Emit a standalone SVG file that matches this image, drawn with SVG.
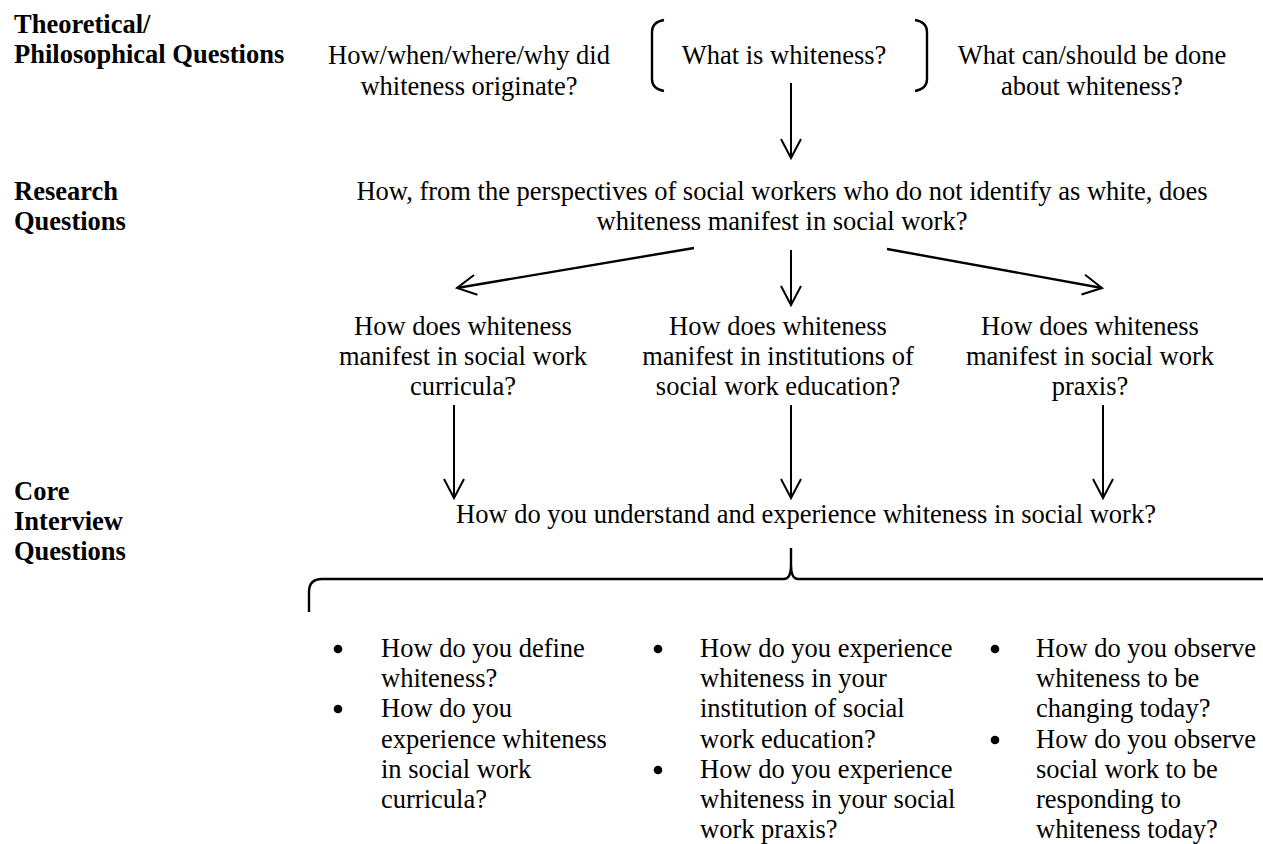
<svg xmlns="http://www.w3.org/2000/svg" width="1263" height="844" viewBox="0 0 1263 844">
<style>
text{font-family:"Liberation Serif","Times New Roman",serif;font-size:26.5px;fill:#000}
.b{font-weight:bold}
.c{text-anchor:middle}
.ln{stroke:#000;stroke-width:2;fill:none}
.br{stroke:#000;stroke-width:2.4;fill:none}
</style>
<defs>
<marker id="ah" markerUnits="userSpaceOnUse" viewBox="-21 -12 24 24" refX="0" refY="0" markerWidth="24" markerHeight="24" orient="auto">
<path d="M -19 -10 L 0 0 L -19 10" fill="none" stroke="#000" stroke-width="2"/>
</marker>
</defs>
<rect width="1263" height="844" fill="#fff"/>
<g id="labels">
<text class="b" x="14" y="33">Theoretical/</text>
<text class="b" x="14" y="63">Philosophical Questions</text>
<text class="b" x="14" y="200">Research</text>
<text class="b" x="14" y="230">Questions</text>
<text class="b" x="14" y="500">Core</text>
<text class="b" x="14" y="530">Interview</text>
<text class="b" x="14" y="560">Questions</text>
</g>
<g id="origin">
<text class="c" x="469" y="64">How/when/where/why did</text>
<text class="c" x="469" y="95">whiteness originate?</text>
</g>
<g id="what">
<path class="br" d="M 664 20 Q 652 22 652 32 L 652 79 Q 652 89 664 91"/>
<path class="br" d="M 915 20 Q 927 22 927 32 L 927 79 Q 927 89 915 91"/>
<text class="c" x="784" y="64">What is whiteness?</text>
</g>
<g id="done">
<text class="c" x="1092" y="64">What can/should be done</text>
<text class="c" x="1092" y="95">about whiteness?</text>
</g>
<g id="research">
<text class="c" x="782" y="200">How, from the perspectives of social workers who do not identify as white, does</text>
<text class="c" x="782" y="230">whiteness manifest in social work?</text>
</g>
<g id="curricula">
<text class="c" x="463" y="335">How does whiteness</text>
<text class="c" x="463" y="365">manifest in social work</text>
<text class="c" x="463" y="395">curricula?</text>
</g>
<g id="institutions">
<text class="c" x="778" y="335">How does whiteness</text>
<text class="c" x="778" y="365">manifest in institutions of</text>
<text class="c" x="778" y="395">social work education?</text>
</g>
<g id="praxis">
<text class="c" x="1090" y="335">How does whiteness</text>
<text class="c" x="1090" y="365">manifest in social work</text>
<text class="c" x="1090" y="395">praxis?</text>
</g>
<g id="core">
<text class="c" x="806" y="523">How do you understand and experience whiteness in social work?</text>
</g>
<g id="connectors">
<line class="ln" x1="791" y1="83" x2="791" y2="158" marker-end="url(#ah)"/>
<line class="ln" x1="694" y1="248" x2="457" y2="288" marker-end="url(#ah)" style="stroke-width:2.4"/>
<line class="ln" x1="791" y1="250" x2="791" y2="305" marker-end="url(#ah)"/>
<line class="ln" x1="887" y1="249" x2="1102" y2="288" marker-end="url(#ah)" style="stroke-width:2.4"/>
<line class="ln" x1="454" y1="405" x2="454" y2="498" marker-end="url(#ah)"/>
<line class="ln" x1="791" y1="405" x2="791" y2="498" marker-end="url(#ah)"/>
<line class="ln" x1="1103" y1="405" x2="1103" y2="498" marker-end="url(#ah)"/>
<path class="br" d="M 309 612 V 592 Q 309 579 322 579 H 784 Q 791 579 791 565 V 548 M 791 565 Q 791 579 798 579 H 1265"/>
</g>
<g id="col1">
<circle cx="338" cy="649" r="4.3"/>
<text x="381" y="657">How do you define</text>
<text x="381" y="687">whiteness?</text>
<circle cx="338" cy="709" r="4.3"/>
<text x="381" y="717">How do you</text>
<text x="381" y="748">experience whiteness</text>
<text x="381" y="778">in social work</text>
<text x="381" y="808">curricula?</text>
</g>
<g id="col2">
<circle cx="658" cy="649" r="4.3"/>
<text x="700" y="657">How do you experience</text>
<text x="700" y="687">whiteness in your</text>
<text x="700" y="717">institution of social</text>
<text x="700" y="748">work education?</text>
<circle cx="658" cy="770" r="4.3"/>
<text x="700" y="778">How do you experience</text>
<text x="700" y="808">whiteness in your social</text>
<text x="700" y="838">work praxis?</text>
</g>
<g id="col3">
<circle cx="995" cy="649" r="4.3"/>
<text x="1036" y="657">How do you observe</text>
<text x="1036" y="687">whiteness to be</text>
<text x="1036" y="717">changing today?</text>
<circle cx="995" cy="740" r="4.3"/>
<text x="1036" y="748">How do you observe</text>
<text x="1036" y="778">social work to be</text>
<text x="1036" y="808">responding to</text>
<text x="1036" y="838">whiteness today?</text>
</g>
</svg>
